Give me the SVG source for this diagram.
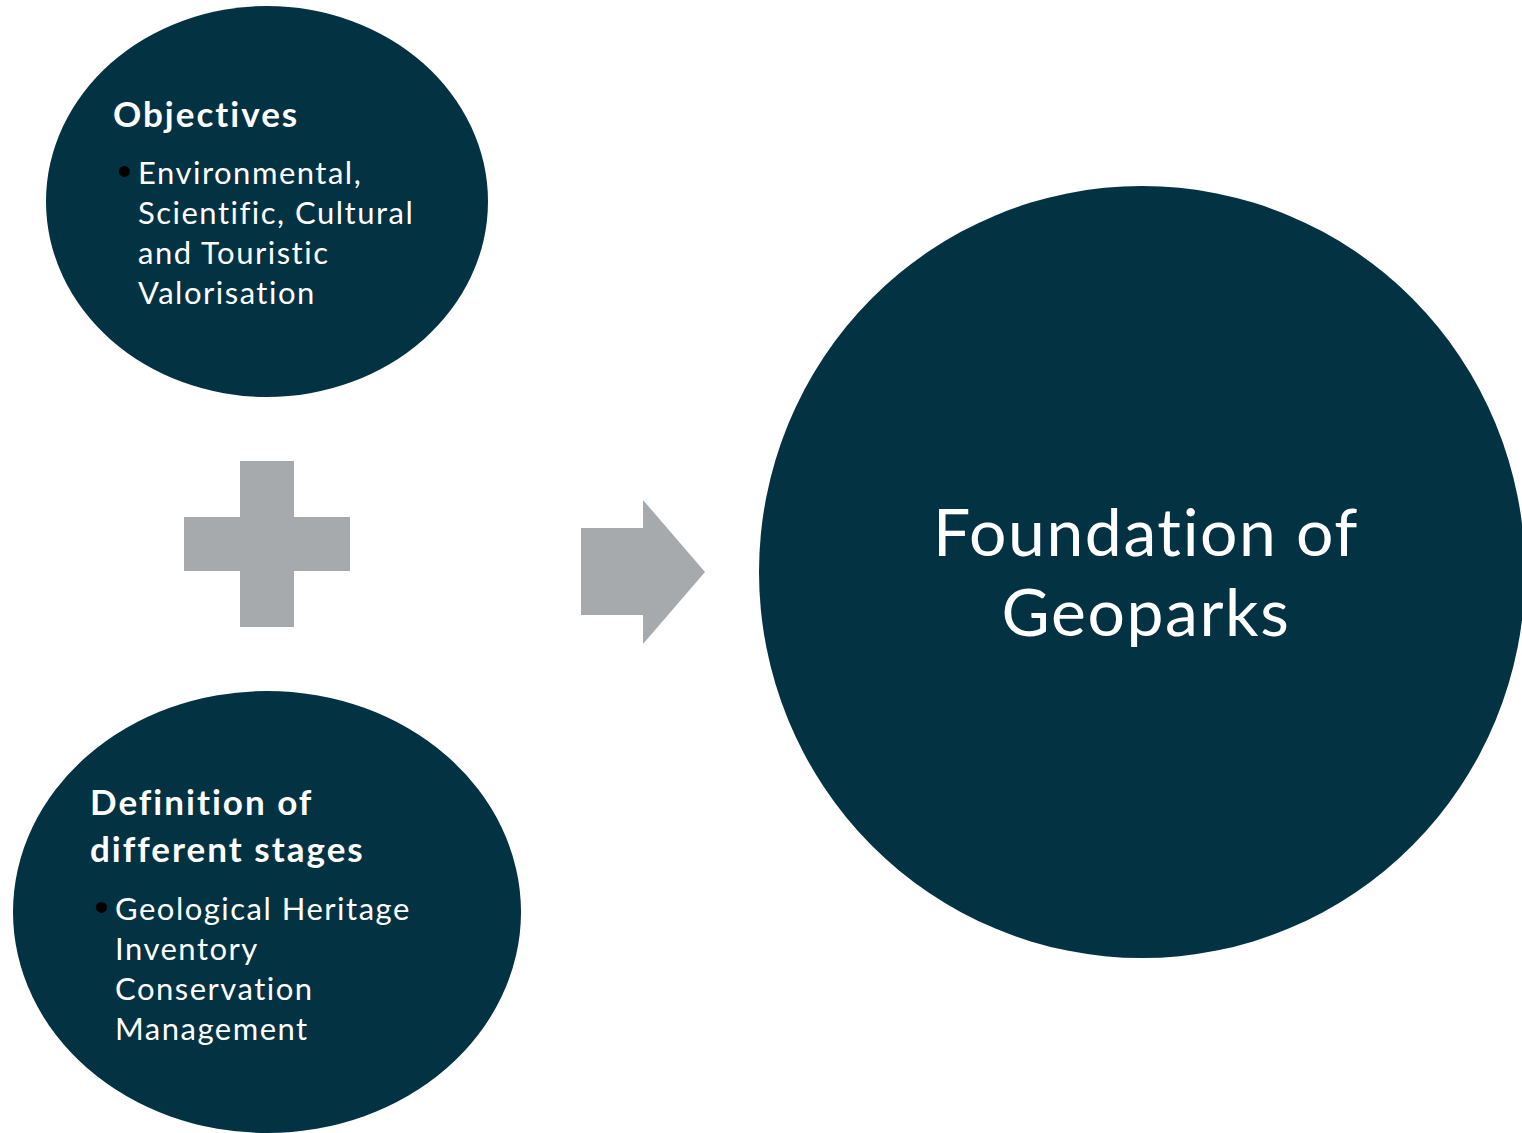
<svg xmlns="http://www.w3.org/2000/svg" width="1522" height="1133" viewBox="0 0 1522 1133">
<style>
.node{fill:#033243}
.shape{fill:#A7AAAD}
.t{font-family:Lato,"Open Sans","Liberation Sans",sans-serif;fill:#FFFFFF;font-variant-ligatures:none}
.h{font-weight:bold;font-size:35px;letter-spacing:2px}
.b{font-size:31px;letter-spacing:1.5px}
.big{font-size:66px;letter-spacing:1.6px}
.bul{font-family:"Liberation Sans",sans-serif;font-size:40px;fill:#000000}
</style>
<rect width="1522" height="1133" fill="#FFFFFF"/>
<g id="objectives">
<ellipse class="node" cx="267" cy="201.5" rx="221" ry="195.5"/>
<text class="t h" x="113" y="127">Objectives</text>
<text class="bul" x="117.5" y="185">•</text>
<text class="t b" x="138" y="184">Environmental,</text>
<text class="t b" x="138" y="224">Scientific, Cultural</text>
<text class="t b" x="138" y="264">and Touristic</text>
<text class="t b" x="138" y="304">Valorisation</text>
</g>
<g id="stages">
<ellipse class="node" cx="267" cy="912" rx="254" ry="221"/>
<text class="t h" x="90" y="815">Definition of</text>
<text class="t h" x="90" y="862">different stages</text>
<text class="bul" x="94.5" y="921">•</text>
<text class="t b" x="115" y="920">Geological Heritage</text>
<text class="t b" x="115" y="960">Inventory</text>
<text class="t b" x="115" y="1000">Conservation</text>
<text class="t b" x="115" y="1040">Management</text>
</g>
<g id="plus">
<path class="shape" d="M240 461H294V517H350V571H294V627H240V571H184V517H240Z"/>
</g>
<g id="connectors">
<path class="shape" d="M581 528H643V500L705 572L643 644V615H581Z"/>
</g>
<g id="foundation">
<ellipse class="node" cx="1142" cy="572" rx="383" ry="386"/>
<text class="t big" x="1146" y="556" text-anchor="middle">Foundation of</text>
<text class="t big" x="1146" y="636" text-anchor="middle">Geoparks</text>
</g>
</svg>
